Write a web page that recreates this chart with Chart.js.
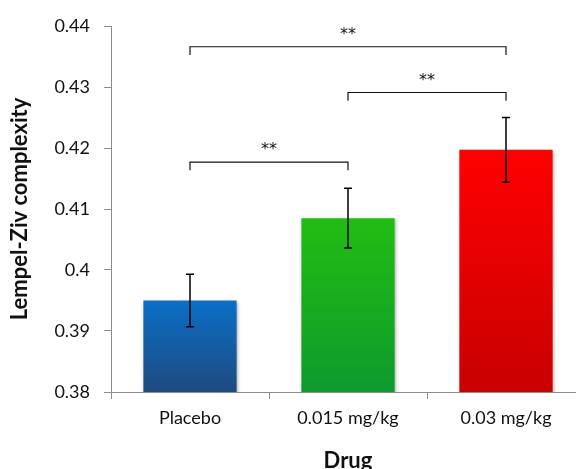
<!DOCTYPE html>
<html>
<head>
<meta charset="utf-8">
<script src="https://cdn.jsdelivr.net/npm/chart.js@4/dist/chart.umd.min.js"></script>
<style>
  html, body { margin: 0; padding: 0; overflow: hidden; background: #fff; }
  #wrap { width: 600px; height: 469px; }
</style>
</head>
<body>
<div id="wrap"><canvas id="c" width="600" height="469"></canvas></div>
<script>
// ---- data ----
const categories = ['Placebo', '0.015 mg/kg', '0.03 mg/kg'];
const means = [0.395, 0.4085, 0.4197];
const errors = [0.0043, 0.0049, 0.0053];
const yTicks = [0.38, 0.39, 0.4, 0.41, 0.42, 0.43, 0.44];
const bracketFrom = [0, 1, 0];
const bracketTo = [2, 2, 1];
const bracketLevel = [0.4366, 0.4291, 0.4177];
const bracketLabels = ['**', '**', '**'];

const gradTop = ['#0a6fc6', '#22bd12', '#ff0000'];
const gradBottom = ['#1f4a80', '#0e9a2e', '#c80000'];
const FONT = 'Lato, "Open Sans", sans-serif';

function barFill(ctx) {
  const chart = ctx.chart;
  const i = ctx.dataIndex;
  if (!chart.chartArea || !chart.scales.y) return gradTop[i];
  const y = chart.scales.y;
  const top = y.getPixelForValue(means[i]);
  const bot = y.getPixelForValue(y.min);
  if (!isFinite(top) || !isFinite(bot) || top === bot) return gradTop[i];
  const g = chart.ctx.createLinearGradient(0, top, 0, bot);
  g.addColorStop(0, gradTop[i]);
  g.addColorStop(1, gradBottom[i]);
  return g;
}

const shadowPlugin = {
  id: 'shadow',
  beforeDatasetsDraw(chart) {
    const c = chart.ctx;
    c.save();
    c.shadowColor = 'rgba(0,0,0,0.3)';
    c.shadowBlur = 3;
    c.shadowOffsetX = 1;
    c.shadowOffsetY = 1;
  },
  afterDatasetsDraw(chart) {
    chart.ctx.restore();
  }
};

const errorPlugin = {
  id: 'errorbars',
  afterDatasetsDraw(chart) {
    const c = chart.ctx, xs = chart.scales.x, ys = chart.scales.y;
    c.save();
    c.strokeStyle = '#000';
    c.lineWidth = 1.5;
    means.forEach((m, i) => {
      const x = xs.getPixelForValue(i);
      const yt = ys.getPixelForValue(m + errors[i]);
      const yb = ys.getPixelForValue(m - errors[i]);
      c.beginPath();
      c.moveTo(x, yt); c.lineTo(x, yb);
      c.moveTo(x - 4, yt); c.lineTo(x + 4, yt);
      c.moveTo(x - 4, yb); c.lineTo(x + 4, yb);
      c.stroke();
    });
    c.restore();
  }
};

const bracketPlugin = {
  id: 'brackets',
  afterDraw(chart) {
    const c = chart.ctx, xs = chart.scales.x, ys = chart.scales.y;
    c.save();
    c.strokeStyle = '#111';
    c.lineWidth = 1.2;
    c.fillStyle = '#111';
    c.font = '16px "DejaVu Sans", sans-serif';
    c.textAlign = 'center';
    c.textBaseline = 'middle';
    bracketLevel.forEach((lv, k) => {
      const x1 = xs.getPixelForValue(bracketFrom[k]);
      const x2 = xs.getPixelForValue(bracketTo[k]);
      const y = ys.getPixelForValue(lv);
      const drop = ys.getPixelForValue(lv - 0.00135) - y;
      c.beginPath();
      c.moveTo(x1, y + drop); c.lineTo(x1, y); c.lineTo(x2, y); c.lineTo(x2, y + drop);
      c.stroke();
      c.fillText(bracketLabels[k], (x1 + x2) / 2, y - 12);
    });
    c.restore();
  }
};

new Chart(document.getElementById('c'), {
  type: 'bar',
  data: {
    labels: categories,
    datasets: [{
      data: means,
      backgroundColor: barFill,
      borderWidth: 0,
      barPercentage: 0.59,
      categoryPercentage: 1.0
    }]
  },
  options: {
    responsive: false,
    animation: false,
    devicePixelRatio: 1,
    layout: { padding: { top: 26, right: 15, bottom: 0, left: 0 } },
    plugins: { legend: { display: false }, tooltip: { enabled: false } },
    scales: {
      x: {
        grid: { display: true, drawOnChartArea: false, drawTicks: true, tickLength: 7, color: '#8c8c8c', offset: true },
        border: { display: true, color: '#8c8c8c', width: 1 },
        ticks: { color: '#111', font: { family: FONT, size: 18 }, padding: 8 },
        title: { display: true, text: 'Drug', color: '#111', font: { family: FONT, size: 22, weight: 'bold', lineHeight: 1.0 }, padding: { top: 0, bottom: -3 } },
        afterFit(s) { s.height = 77; }
      },
      y: {
        min: 0.38, max: 0.44,
        afterBuildTicks(s) { s.ticks = yTicks.map(v => ({ value: v })); },
        grid: { display: true, drawOnChartArea: false, drawTicks: true, tickLength: 7, color: '#8c8c8c' },
        border: { display: true, color: '#8c8c8c', width: 1 },
        ticks: { color: '#111', font: { family: FONT, size: 18 }, padding: 14, callback: v => String(+v.toFixed(2)) },
        title: { display: true, text: 'Lempel-Ziv complexity', color: '#111', font: { family: FONT, size: 22, weight: 'bold', lineHeight: 1.0 }, padding: { top: 9, bottom: 0 } },
        afterFit(s) { s.width = 111; }
      }
    }
  },
  plugins: [shadowPlugin, errorPlugin, bracketPlugin]
});
</script>
</body>
</html>
